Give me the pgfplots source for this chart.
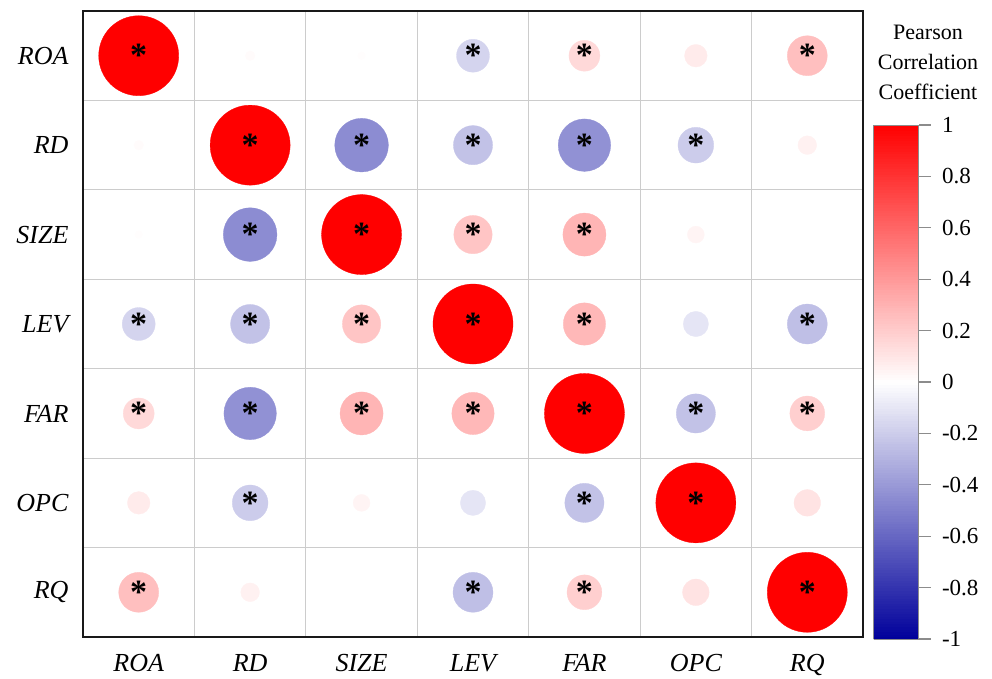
\documentclass[border=0pt]{standalone}
\usepackage{pgfplots}
\pgfplotsset{compat=1.18}
\usepackage{pgfplotstable}
\usepackage{fontspec}
\setmainfont{Liberation Serif}
\pgfplotsset{colormap={corr}{rgb255=(0,0,155) rgb255=(255,255,255) rgb255=(255,0,0)}}
\pgfplotstableread{
x y r s
0.5 0.5 1 1
1.5 0.5 0.015 0
2.5 0.5 0.01 0
3.5 0.5 -0.17 1
4.5 0.5 0.15 1
5.5 0.5 0.08 0
6.5 0.5 0.25 1
0.5 1.5 0.015 0
1.5 1.5 1 1
2.5 1.5 -0.45 1
3.5 1.5 -0.24 1
4.5 1.5 -0.43 1
5.5 1.5 -0.20 1
6.5 1.5 0.055 0
0.5 2.5 0.01 0
1.5 2.5 -0.45 1
2.5 2.5 1 1
3.5 2.5 0.23 1
4.5 2.5 0.29 1
5.5 2.5 0.045 0
6.5 2.5 0 0
0.5 3.5 -0.17 1
1.5 3.5 -0.24 1
2.5 3.5 0.23 1
3.5 3.5 1 1
4.5 3.5 0.28 1
5.5 3.5 -0.10 0
6.5 3.5 -0.25 1
0.5 4.5 0.15 1
1.5 4.5 -0.43 1
2.5 4.5 0.29 1
3.5 4.5 0.28 1
4.5 4.5 1 1
5.5 4.5 -0.24 1
6.5 4.5 0.19 1
0.5 5.5 0.08 0
1.5 5.5 -0.20 1
2.5 5.5 0.045 0
3.5 5.5 -0.10 0
4.5 5.5 -0.24 1
5.5 5.5 1 1
6.5 5.5 0.11 0
0.5 6.5 0.25 1
1.5 6.5 0.055 0
2.5 6.5 0 0
3.5 6.5 -0.25 1
4.5 6.5 0.19 1
5.5 6.5 0.11 0
6.5 6.5 1 1
}\corrdata
\begin{document}
\begin{tikzpicture}
\useasboundingbox (0,0) rectangle (992pt,678pt);
\begin{axis}[
  at={(83pt,41pt)}, anchor=south west,
  scale only axis, width=780pt, height=626pt,
  xmin=0, xmax=7, ymin=0, ymax=7, y dir=reverse,
  xtick={0.5,1.5,2.5,3.5,4.5,5.5,6.5},
  ytick={0.5,1.5,2.5,3.5,4.5,5.5,6.5},
  xticklabels={ROA,RD,SIZE,LEV,FAR,OPC,RQ},
  yticklabels={ROA,RD,SIZE,LEV,FAR,OPC,RQ},
  minor xtick={1,2,3,4,5,6}, minor ytick={1,2,3,4,5,6},
  minor grid style={draw=black!20, line width=0.9pt},
  xminorgrids, yminorgrids,
  major tick length=0pt, minor tick length=0pt,
  axis line style={line width=1.6pt, black!90},
  ticklabel style={font=\fontsize{26}{26}\selectfont\itshape},
  xticklabel style={yshift=-14pt},
  yticklabel style={xshift=-11pt},
  colormap name=corr, point meta min=-1, point meta max=1,
  colorbar sampled,
  colorbar style={
    at={(parent axis.north east)}, anchor=north west,
    xshift=2pt, yshift=-114pt,
    scale only axis,
    width=45pt, height=514pt,
    samples=201,
    xmin=0, xmax=1,
    minor xtick={}, minor ytick={}, xminorgrids=false, yminorgrids=false,
    ytick={-1,-0.8,-0.6,-0.4,-0.2,0,0.2,0.4,0.6,0.8,1},
    yticklabels={-1,-0.8,-0.6,-0.4,-0.2,0,0.2,0.4,0.6,0.8,1},
    ytick pos=right, yticklabel pos=right,
    tick align=outside, major tick length=12pt,
    tick style={draw=black!45, line width=1.2pt},
    axis line style={draw=black!45, line width=0.8pt},
    yticklabel style={font=\fontsize{23}{23}\selectfont, xshift=8pt},
  },
]
\addplot[scatter, only marks, mark=*,
  point meta=explicit,
  scatter/use mapped color={draw=mapped color, fill=mapped color},
  mark options={line width=0.3pt},
  visualization depends on={40*sqrt(abs(\thisrow{r})) \as \rad},
  scatter/@pre marker code/.append style={/tikz/mark size=\rad},
] table[x=x, y=y, meta=r] {\corrdata};
\addplot[only marks, mark=none,
  restrict expr to domain={\thisrow{s}}{0.5:1.5},
  nodes near coords={*}, nodes near coords align={center},
  every node near coord/.append style={font=\fontsize{34}{34}\selectfont\bfseries, yshift=0pt, text=black},
] table[x=x, y=y] {\corrdata};
\end{axis}
\node[align=center, font=\fontsize{22}{30}\selectfont] at (928pt,616pt) {Pearson\\Correlation\\Coefficient};
\end{tikzpicture}
\end{document}
